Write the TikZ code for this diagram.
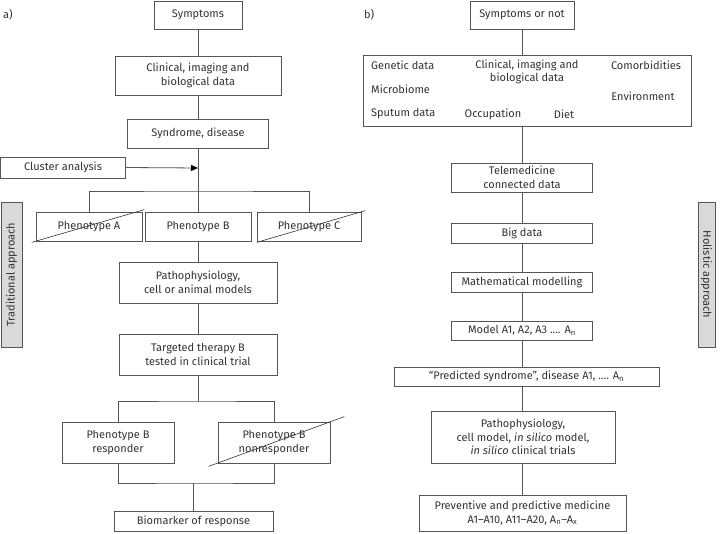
\documentclass[tikz,border=0pt]{standalone}
\usepackage{fontspec}
\setmainfont{Fira Sans}
\usetikzlibrary{arrows.meta}
\definecolor{ln}{HTML}{555555}
\definecolor{tx}{HTML}{333333}
\definecolor{gfill}{HTML}{D9D9D9}
\begin{document}
\begin{tikzpicture}[x=1pt,y=-1pt,
  font=\fontsize{11}{13.5}\selectfont, text=tx,
  box/.style={draw=ln, line width=0.8pt, inner sep=0pt, align=center, fill=white},
  lbl/.style={inner sep=0pt, align=center},
  conn/.style={draw=ln, line width=0.8pt},
  strike/.style={draw=tx, line width=0.6pt},
  side/.style={draw=ln, line width=0.8pt, fill=gfill, inner sep=0pt, minimum width=145pt}]
\useasboundingbox (0,0) rectangle (720,534);

% ---------- panel a ----------
\node[lbl, anchor=west] (la) at (3,15) {a)};
\node[box, minimum width=88pt, minimum height=28pt] (sym) at (198,15) {Symptoms};
\node[box, minimum width=166pt, minimum height=39pt] (clin) at (198,75.5) {Clinical, imaging and\\biological data};
\node[box, minimum width=141pt, minimum height=29pt] (synd) at (198,133.5) {Syndrome, disease};
\node[box, minimum width=125pt, minimum height=21pt] (clus) at (63,167.5) {Cluster analysis};
\node[box, minimum width=106pt, minimum height=29pt] (phA) at (89,226.5) {Phenotype A};
\node[box, minimum width=106pt, minimum height=29pt] (phB) at (198,226.5) {Phenotype B};
\node[box, minimum width=104pt, minimum height=29pt] (phC) at (309,226.5) {Phenotype C};
\node[box, minimum width=158pt, minimum height=41pt] (patho) at (198,282.5) {Pathophysiology,\\cell or animal models};
\node[box, minimum width=158pt, minimum height=41pt] (targ) at (198,354.5) {Targeted therapy B\\tested in clinical trial};
\node[box, minimum width=112pt, minimum height=41pt] (resp) at (118,442.5) {Phenotype B\\responder};
\node[box, minimum width=112pt, minimum height=41pt] (nonr) at (274,442.5) {Phenotype B\\nonresponder};
\node[box, minimum width=159pt, minimum height=20pt] (bio) at (193.5,521) {Biomarker of response};
\node[side, minimum height=21pt, rotate=90] (trad) at (11.5,274.5) {Traditional approach};

\coordinate (ca) at (198,168);
\coordinate (b1) at (198,191);
\coordinate (b2) at (198,401);
\coordinate (b3) at (193.5,483);

\draw[conn] (sym.south) -- (clin.north);
\draw[conn] (clin.south) -- (synd.north);
\draw[conn] (synd.south) -- (phB.north);
\draw[conn, -{Triangle[length=7pt,width=6pt,fill=black,color=black]}] (clus.east) -- (ca);
\draw[conn] (phA.north) |- (b1) -| (phC.north);
\draw[conn] (phB.south) -- (patho.north);
\draw[conn] (patho.south) -- (targ.north);
\draw[conn] (targ.south) -- (b2);
\draw[conn] (resp.north) |- (b2) -| (nonr.north);
\draw[conn] (resp.south) |- (b3) -| (nonr.south);
\draw[conn] (b3) -- (bio.north);

\draw[strike] ([shift={(-4,1)}]phA.south west) -- ([shift={(2,-2)}]phA.north east);
\draw[strike] ([shift={(0,1)}]phC.south west) -- ([shift={(4,-1)}]phC.north east);
\draw[strike] ([shift={(-9,3)}]nonr.south west) -- ([shift={(14,-5)}]nonr.north east);

% ---------- panel b ----------
\node[lbl, anchor=west] (lb) at (364,15) {b)};
\node[box, minimum width=104pt, minimum height=28pt] (sym2) at (522,15) {Symptoms or not};
\node[box, minimum width=328pt, minimum height=71pt] (big) at (527,90.5) {};
\node[lbl, anchor=west] (gen) at (371,65) {Genetic data};
\node[lbl] (cli2) at (527,72) {Clinical, imaging and\\biological data};
\node[lbl] (com) at (646,65) {Comorbidities};
\node[lbl, anchor=west] (mic) at (371,89) {Microbiome};
\node[lbl] (env) at (643,96) {Environment};
\node[lbl, anchor=west] (spu) at (371,114) {Sputum data};
\node[lbl] (occ) at (493,114) {Occupation};
\node[lbl] (die) at (564,114) {Diet};
\node[box, minimum width=141pt, minimum height=29pt] (tele) at (522,177.5) {Telemedicine\\connected data};
\node[box, minimum width=141pt, minimum height=20pt] (bigd) at (522,233) {Big data};
\node[box, minimum width=141pt, minimum height=20pt] (math) at (522,282) {Mathematical modelling};
\node[box, minimum width=141pt, minimum height=19pt] (model) at (522,330.5) {Model A1, A2, A3 .... A\textsubscript{n}};
\node[box, minimum width=265pt, minimum height=19pt] (pred) at (526.5,376.5) {“Predicted syndrome”, disease A1, .... A\textsubscript{n}};
\node[box, minimum width=184pt, minimum height=52pt] (patho2) at (523,437) {Pathophysiology,\\cell model, \textit{in silico} model,\\\textit{in silico} clinical trials};
\node[box, minimum width=207pt, minimum height=36pt] (prev) at (522.5,513) {Preventive and predictive medicine\\A1–A10, A11–A20, A\textsubscript{n}–A\textsubscript{x}};
\node[side, minimum height=17pt, rotate=-90] (hol) at (706.5,274.5) {Holistic approach};

\draw[conn] (sym2.south) -- (sym2.south |- big.north);
\draw[conn] (sym2.south |- big.south) -- (tele.north);
\draw[conn] (tele.south) -- (bigd.north);
\draw[conn] (bigd.south) -- (math.north);
\draw[conn] (math.south) -- (model.north);
\draw[conn] (model.south) -- (model.south |- pred.north);
\draw[conn] (model.south |- pred.south) -- (model.south |- patho2.north);
\draw[conn] (model.south |- patho2.south) -- (model.south |- prev.north);
\end{tikzpicture}
\end{document}
